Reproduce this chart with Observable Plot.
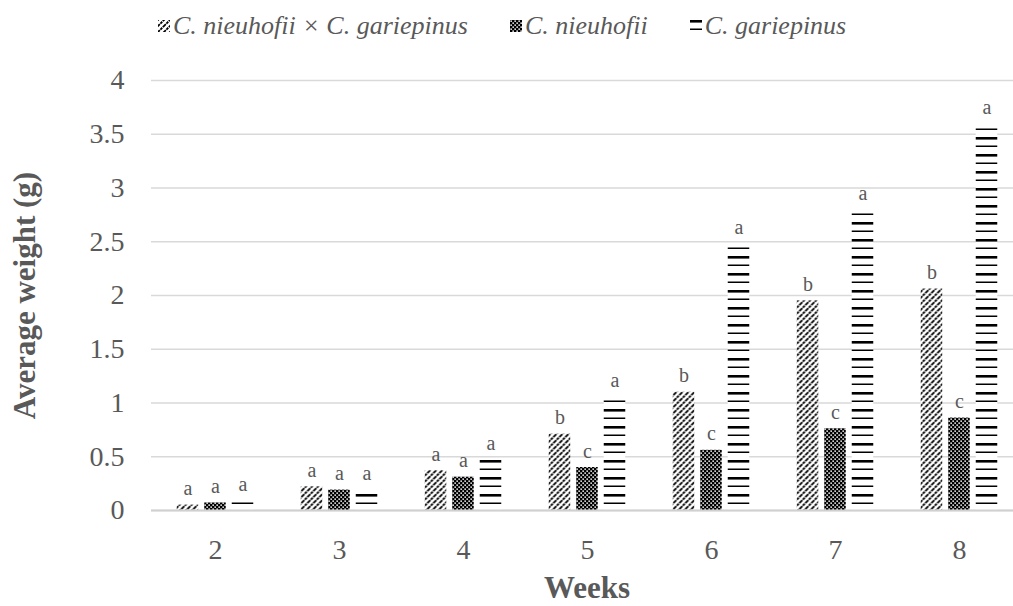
<!DOCTYPE html>
<html>
<head>
<meta charset="utf-8">
<script src="https://cdn.jsdelivr.net/npm/d3@7"></script>
<script src="https://cdn.jsdelivr.net/npm/@observablehq/plot@0.6"></script>
<style>
  body { margin: 0; background: #fff; font-family: "Liberation Serif", serif; }
  #legend { width: 1013px; height: 52px; display: flex; align-items: center; padding-left: 158px; box-sizing: border-box;
            font-family: "Liberation Serif", serif; font-style: italic; font-size: 26px; color: #595959; }
  .item { display: flex; align-items: center; margin-right: 42px; white-space: nowrap; }
  .item svg { margin-right: 3px; }
</style>
</head>
<body>
<div id="legend"></div>
<div id="chart"></div>
<script>
// ---- data ----
const weeks = ["2", "3", "4", "5", "6", "7", "8"];
const seriesNames = ["C. nieuhofii × C. gariepinus", "C. nieuhofii", "C. gariepinus"];
const hybrid     = [0.05, 0.22, 0.37, 0.71, 1.10, 1.95, 2.06];
const nieuhofii  = [0.07, 0.19, 0.31, 0.40, 0.56, 0.76, 0.86];
const gariepinus = [0.09, 0.19, 0.47, 1.06, 2.48, 2.80, 3.60];
const hybridLetters     = ["a", "a", "a", "b", "b", "b", "b"];
const nieuhofiiLetters  = ["a", "a", "a", "c", "c", "c", "c"];
const gariepinusLetters = ["a", "a", "a", "a", "a", "a", "a"];
const yTicks = [0, 0.5, 1, 1.5, 2, 2.5, 3, 3.5, 4];
const yLabel = "Average weight (g)";
const xLabel = "Weeks";

const valuesBySeries = [hybrid, nieuhofii, gariepinus];
const lettersBySeries = [hybridLetters, nieuhofiiLetters, gariepinusLetters];
const rows = [];
seriesNames.forEach((s, i) => weeks.forEach((w, j) => rows.push({
  week: w, series: s, value: valuesBySeries[i][j], letter: lettersBySeries[i][j]
})));

// ---- patterns ----
const patIds = ["pat-hyb", "pat-nie", "pat-gar"];
function addPatterns(defs, suffix) {
  const p1 = defs.append("pattern").attr("id", patIds[0] + suffix).attr("patternUnits", "userSpaceOnUse")
    .attr("width", 6).attr("height", 6);
  p1.append("rect").attr("width", 6).attr("height", 6).attr("fill", "#fff");
  p1.append("path").attr("d", "M0,6L6,0M-1,1L1,-1M5,7L7,5").attr("stroke", "#000").attr("stroke-width", 1.8)
    .attr("stroke-dasharray", "2.6 0.8");
  const p2 = defs.append("pattern").attr("id", patIds[1] + suffix).attr("patternUnits", "userSpaceOnUse")
    .attr("width", 4).attr("height", 4);
  p2.append("rect").attr("width", 4).attr("height", 4).attr("fill", "#000");
  p2.append("rect").attr("x", 0.4).attr("y", 0.4).attr("width", 1.5).attr("height", 1.5).attr("fill", "#fff");
  p2.append("rect").attr("x", 2.4).attr("y", 2.4).attr("width", 1.5).attr("height", 1.5).attr("fill", "#fff");
  const p3 = defs.append("pattern").attr("id", patIds[2] + suffix).attr("patternUnits", "userSpaceOnUse")
    .attr("width", 22).attr("height", 17);
  p3.append("rect").attr("width", 22).attr("height", 17).attr("fill", "#fff");
  p3.append("rect").attr("y", 0).attr("width", 22).attr("height", 2.6).attr("fill", "#000");
  p3.append("rect").attr("y", 8.5).attr("width", 22).attr("height", 1.5).attr("fill", "#000");
}

// ---- legend ----
const legend = d3.select("#legend");
seriesNames.forEach((s, i) => {
  const item = legend.append("div").attr("class", "item");
  const sw = item.append("svg").attr("width", 12).attr("height", 12);
  addPatterns(sw.append("defs"), "-lg" + i);
  sw.append("rect").attr("width", 12).attr("height", 12).attr("fill", `url(#${patIds[i]}-lg${i})`);
  item.append("span").text(s);
});

// ---- chart ----
const offsets = [-27.5, 0, 27.5];
const marks = [
  Plot.gridY(yTicks, {stroke: "#d9d9d9", strokeOpacity: 1, strokeWidth: 1.3})
];
seriesNames.forEach((s, i) => {
  const sub = rows.filter(r => r.series === s);
  marks.push(Plot.barY(sub, {x: "week", y: "value", fill: `url(#${patIds[i]})`, dx: offsets[i],
    insetLeft: 51.25, insetRight: 51.25}));
  marks.push(Plot.text(sub, {x: "week", y: "value", text: "letter", dx: offsets[i], dy: -10,
    lineAnchor: "bottom", fontSize: 20, fill: "#595959"}));
});
marks.push(Plot.ruleY([0], {stroke: "#d0d0d0", strokeWidth: 2}));
marks.push(Plot.axisY(yTicks, {tickSize: 0, tickPadding: 27, fontSize: 28, tickFormat: d => String(d),
  label: yLabel, labelAnchor: "center", labelOffset: 139, labelArrow: "none"}));
marks.push(Plot.axisX({tickSize: 0, tickPadding: 29, fontSize: 28,
  label: xLabel, labelAnchor: "center", labelOffset: 87, labelArrow: "none"}));

const chart = Plot.plot({
  width: 1013,
  height: 554,
  marginTop: 28,
  marginBottom: 96,
  marginLeft: 151,
  marginRight: -9,
  style: {fontFamily: "'Liberation Serif', serif", color: "#595959", background: "#fff", overflow: "hidden"},
  x: {type: "band", domain: weeks, padding: 0},
  y: {domain: [0, 4]},
  marks
});
addPatterns(d3.select(chart).insert("defs", ":first-child"), "");
// bold axis titles
d3.select(chart).selectAll("[aria-label='y-axis label'] text, [aria-label='x-axis label'] text")
  .attr("font-weight", "bold").attr("font-size", 31);
document.getElementById("chart").appendChild(chart);
</script>
</body>
</html>
